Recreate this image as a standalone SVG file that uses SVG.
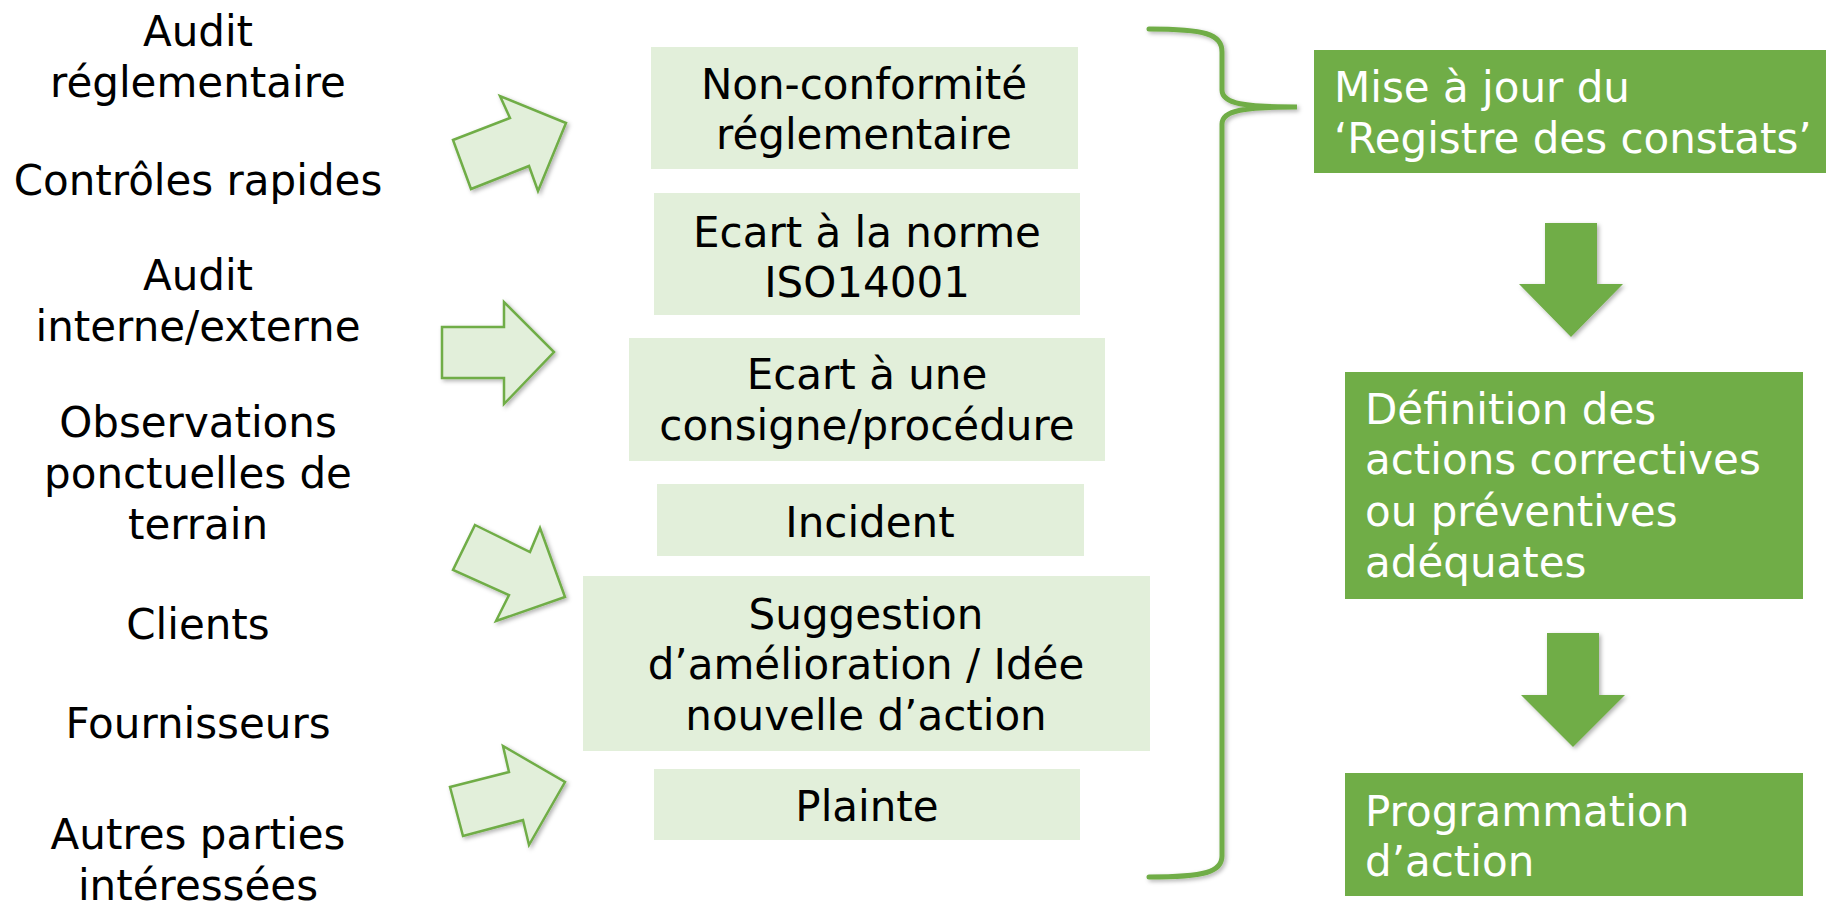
<svg xmlns="http://www.w3.org/2000/svg" width="1826" height="905" viewBox="0 0 1826 905">
  <style>
    text { font-family: "DejaVu Sans", Verdana, sans-serif; font-size: 42px; }
    .src { fill: #000; text-anchor: middle; }
    .lbl { fill: #000; text-anchor: middle; }
    .step { fill: #fff; text-anchor: start; }
    .light { fill: #e2efda; }
    .dark { fill: #70ad47; }
    .inarrow { fill: #e2efda; stroke: #70ad47; stroke-width: 2.5; stroke-linejoin: miter; }
  </style>
  <defs>
    <filter id="shadow" x="-20%" y="-20%" width="140%" height="140%">
      <feDropShadow dx="2" dy="2" stdDeviation="2" flood-color="#000" flood-opacity="0.3"/>
    </filter>
  </defs>

  <rect width="1826" height="905" fill="#fff"/>

  <!-- sources -->
  <g id="sources">
    <text class="src" x="198" y="46">Audit</text>
    <text class="src" x="198" y="97">réglementaire</text>
    <text class="src" x="198" y="195">Contrôles rapides</text>
    <text class="src" x="198" y="290">Audit</text>
    <text class="src" x="198" y="341">interne/externe</text>
    <text class="src" x="198" y="437">Observations</text>
    <text class="src" x="198" y="488">ponctuelles de</text>
    <text class="src" x="198" y="539">terrain</text>
    <text class="src" x="198" y="639">Clients</text>
    <text class="src" x="198" y="738">Fournisseurs</text>
    <text class="src" x="198" y="849">Autres parties</text>
    <text class="src" x="198" y="900">intéressées</text>
  </g>

  <!-- findings -->
  <g id="finding-nc">
    <rect class="light" x="651" y="47" width="427" height="122"/>
    <text class="lbl" x="864" y="99">Non-conformité</text>
    <text class="lbl" x="864" y="149">réglementaire</text>
  </g>
  <g id="finding-iso">
    <rect class="light" x="654" y="193" width="426" height="122"/>
    <text class="lbl" x="867" y="247">Ecart à la norme</text>
    <text class="lbl" x="867" y="297">ISO14001</text>
  </g>
  <g id="finding-proc">
    <rect class="light" x="629" y="338" width="476" height="123"/>
    <text class="lbl" x="867" y="389">Ecart à une</text>
    <text class="lbl" x="867" y="440">consigne/procédure</text>
  </g>
  <g id="finding-incident">
    <rect class="light" x="657" y="484" width="427" height="72"/>
    <text class="lbl" x="870" y="537">Incident</text>
  </g>
  <g id="finding-suggestion">
    <rect class="light" x="583" y="576" width="567" height="175"/>
    <text class="lbl" x="866" y="629">Suggestion</text>
    <text class="lbl" x="866" y="679">d’amélioration / Idée</text>
    <text class="lbl" x="866" y="730">nouvelle d’action</text>
  </g>
  <g id="finding-plainte">
    <rect class="light" x="654" y="769" width="426" height="71"/>
    <text class="lbl" x="867" y="821">Plainte</text>
  </g>

  <!-- process steps -->
  <g id="step-registre">
    <rect class="dark" x="1314" y="50" width="512" height="123"/>
    <text class="step" x="1334" y="102">Mise à jour du</text>
    <text class="step" x="1334" y="153">‘Registre des constats’</text>
  </g>
  <g id="step-definition">
    <rect class="dark" x="1345" y="372" width="458" height="227"/>
    <text class="step" x="1365" y="424">Définition des</text>
    <text class="step" x="1365" y="474">actions correctives</text>
    <text class="step" x="1365" y="526">ou préventives</text>
    <text class="step" x="1365" y="577">adéquates</text>
  </g>
  <g id="step-programmation">
    <rect class="dark" x="1345" y="773" width="458" height="123"/>
    <text class="step" x="1365" y="826">Programmation</text>
    <text class="step" x="1365" y="876">d’action</text>
  </g>

  <!-- connectors -->
  <g id="connectors">
    <g filter="url(#shadow)">
      <polygon class="inarrow" points="453,140 510,118 500,96 566,123 538,191 529,166 471,189"/>
      <polygon class="inarrow" points="442,327 504,327 504,302 554,352 504,404 504,378 442,378"/>
      <polygon class="inarrow" points="475,525 530,552 540,528 565,597 496,621 509,595 453,570"/>
      <polygon class="inarrow" points="450,787 509,772 503,746 565,782 529,845 523,820 463,836"/>
    </g>
    <path d="M1149,29 C1205,29 1222,34 1222,52 L1222,90 C1222,104 1245,107 1297,107 C1245,107 1222,110 1222,124 L1222,856 C1222,872 1205,877 1149,877"
          fill="none" stroke="#70ad47" stroke-width="5" stroke-linecap="round" filter="url(#shadow)"/>
    <g filter="url(#shadow)">
      <polygon class="dark" points="1545,223 1597,223 1597,284 1623,284 1571,337 1519,284 1545,284"/>
      <polygon class="dark" points="1547,633 1599,633 1599,695 1625,695 1573,747 1521,695 1547,695"/>
    </g>
  </g>
</svg>
